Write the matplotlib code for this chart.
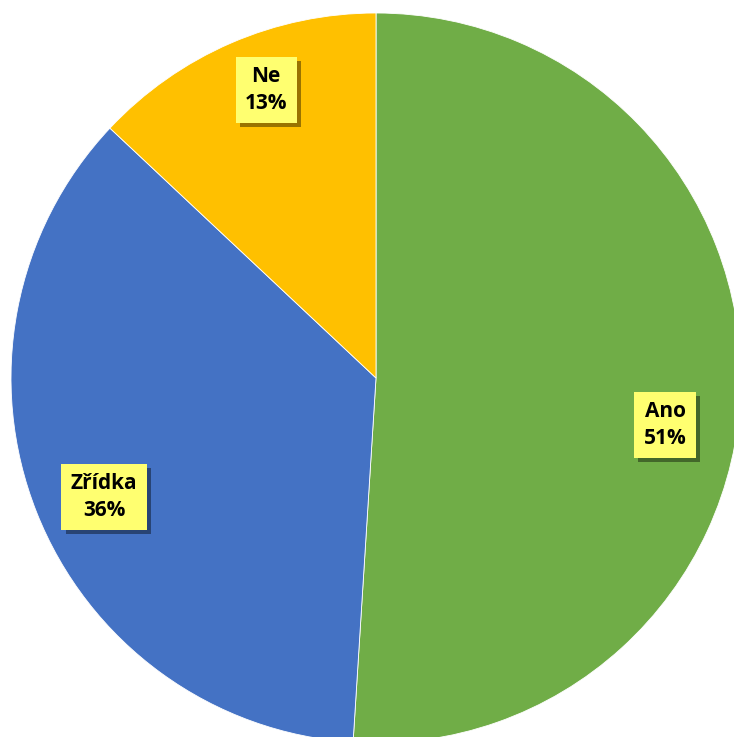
import matplotlib.pyplot as plt
import matplotlib.patheffects as pe

# data
names = ["Ano", "Zřídka", "Ne"]
values = [51, 36, 13]
colors = ["#70AD47", "#4472C4", "#FFC000"]

fig = plt.figure(figsize=(7.34, 7.37), dpi=100)
ax = fig.add_axes([0, 0, 1, 1])

labels = [n + "\n" + str(v) + "%" for n, v in zip(names, values)]
wedges, texts = ax.pie(
    values, colors=colors, startangle=90, counterclock=False,
    labels=labels, labeldistance=0.81,
    wedgeprops=dict(edgecolor="white", linewidth=0.6),
    textprops=dict(fontsize=15, fontweight="bold", family=["Open Sans", "DejaVu Sans"],
                   color="black", linespacing=1.35),
)

# label spots as placed in the original (data units, pie radius = 1)
label_pos = [(0.792, -0.129), (-0.745, -0.326), (-0.301, 0.789)]

shadow = [pe.withSimplePatchShadow(offset=(3, -3), shadow_rgbFace="black", alpha=0.4)]
for t, p in zip(texts, label_pos):
    t.set_position(p)
    t.set_ha("center")
    t.set_va("center")
    t.set_bbox(dict(boxstyle="square,pad=0.45", facecolor="#FFFF70", edgecolor="none"))
    t.get_bbox_patch().set_path_effects(shadow)

# pie radius 1 -> 365 px, centre at (376, 378) px from top-left
r = 365.0
ax.set_xlim(-376 / r, (734 - 376) / r)
ax.set_ylim(-(737 - 378) / r, 378 / r)
ax.set_aspect("auto")
ax.axis("off")

fig.savefig("out.png", dpi=100, facecolor="white")
